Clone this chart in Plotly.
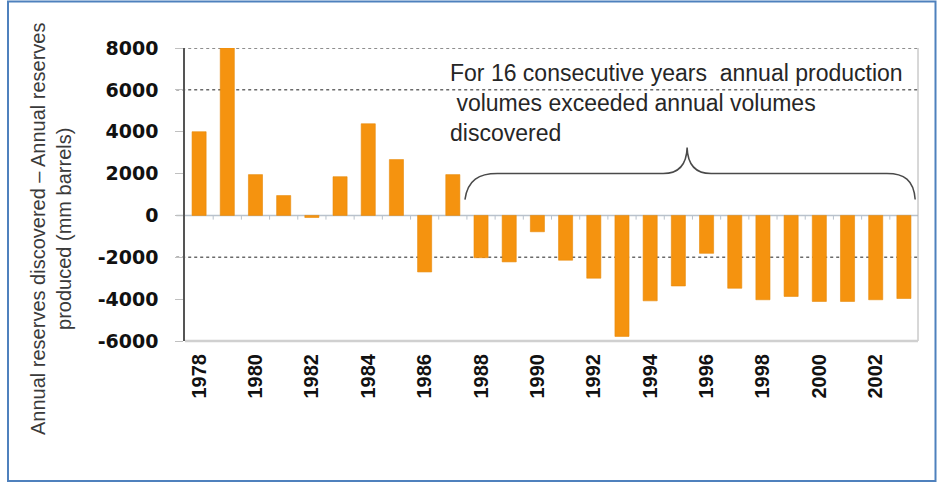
import plotly.graph_objects as go

# ---- data ----
years = list(range(1978, 2004))
net_reserves = [4000, 8000, 1950, 950, -100, 1850, 4380, 2670, -2700, 1950,
                -2020, -2220, -780, -2140, -3000, -5780, -4080, -3370, -1810, -3480,
                -4030, -3870, -4110, -4110, -4030, -3970]
y_ticks = [-6000, -4000, -2000, 0, 2000, 4000, 6000, 8000]
x_ticks = list(range(1978, 2003, 2))
grid_values = [8000, 6000, -2000]
y_title = "Annual reserves discovered \u2013 Annual reserves<br>produced (mm barrels)"
note_text = ("For 16 consecutive years  annual production<br>"
             "\u00a0volumes exceeded annual volumes<br>discovered")
bracket_years = (1987.43, 2003.4)   # span of the brace (years)
bracket_peak = 1995.31

W, H = 937, 484
L, R, T, B = 185, 918, 48, 341


def px(x):
    return (x - L) / (R - L)


def py(y):
    return (B - y) / (B - T)


fig = go.Figure()
fig.add_trace(go.Bar(
    x=years, y=net_reserves, width=0.5,
    marker=dict(color="#F5930F", line=dict(color="#E88A0A", width=0.6)),
    showlegend=False, hoverinfo="x+y"))

shapes = []
# dotted grid lines
for g in grid_values:
    shapes.append(dict(type="line", xref="paper", yref="y", x0=-0.012, x1=1, y0=g, y1=g,
                       line=dict(color="#6a6a6a", width=1.5, dash="dot"), layer="below"))
# zero line
shapes.append(dict(type="line", xref="paper", yref="y", x0=-0.012, x1=1, y0=0, y1=0,
                   line=dict(color="#b9c2cc", width=1.5), layer="below"))
# small ticks on the zero line at category boundaries
for yr in years[:-1]:
    shapes.append(dict(type="line", xref="x", yref="y", x0=yr + 0.5, x1=yr + 0.5,
                       y0=0, y1=-200, line=dict(color="#b9c2cc", width=1), layer="below"))
# right and bottom frame of the plot
shapes.append(dict(type="line", xref="paper", yref="paper", x0=1, x1=1, y0=0, y1=1,
                   line=dict(color="#b0b0b0", width=1)))
shapes.append(dict(type="line", xref="paper", yref="paper", x0=0, x1=1, y0=0, y1=0,
                   line=dict(color="#d0d0d0", width=2.5)))
# curly brace
a, b = bracket_years
m = bracket_peak
yl, yh, yp = 760, 2000, 3240
path = (f"M {a},{yl} C {a+0.1},{yh-300} {a+0.5},{yh} {a+1.15},{yh} "
        f"L {m-0.85},{yh} C {m-0.3},{yh} {m-0.02},{yh+400} {m},{yp} "
        f"C {m+0.02},{yh+400} {m+0.3},{yh} {m+0.85},{yh} "
        f"L {b-1.0},{yh} C {b-0.4},{yh} {b-0.05},{yh-300} {b},{yl}")
shapes.append(dict(type="path", xref="x", yref="y", path=path,
                   line=dict(color="#4a4a4a", width=1.5)))
# outer blue border
shapes.append(dict(type="rect", xref="paper", yref="paper",
                   x0=px(8), x1=px(935.5), y0=py(481), y1=py(1.5),
                   line=dict(color="#4F81BD", width=2)))

annotations = [
    dict(text=y_title, xref="paper", yref="paper", x=px(51), y=py(229),
         xanchor="center", yanchor="middle", textangle=-90, showarrow=False,
         font=dict(family="Liberation Sans, Arial", size=20, color="#3a3a3a")),
    dict(text=note_text, xref="paper", yref="paper", x=px(448), y=py(58),
         xanchor="left", yanchor="top", align="left", showarrow=False,
         font=dict(family="Liberation Sans, Arial", size=23, color="#262626")),
]

fig.update_layout(
    width=W, height=H,
    margin=dict(l=L, r=W - R, t=T, b=H - B),
    paper_bgcolor="white", plot_bgcolor="white",
    shapes=shapes, annotations=annotations,
    bargap=0.5,
    xaxis=dict(range=[1977.5, 2003.5], tickvals=x_ticks, ticktext=[str(v) for v in x_ticks],
               tickangle=-90, showgrid=False, zeroline=False, showline=False,
               ticks="", ticklabelstandoff=8,
               tickfont=dict(family="Liberation Sans, Arial", size=20, color="#111111", weight="bold")),
    yaxis=dict(range=[-6000, 8000], tickvals=y_ticks, ticktext=[str(v) for v in y_ticks],
               showgrid=False, zeroline=False, showline=True, linecolor="#555555", linewidth=1.5,
               ticks="outside", ticklen=8, tickcolor="#c0c0c0", ticklabelstandoff=13,
               tickfont=dict(family="DejaVu Sans", size=19, color="#111111", weight="bold")),
)

fig.write_html("out.html")
